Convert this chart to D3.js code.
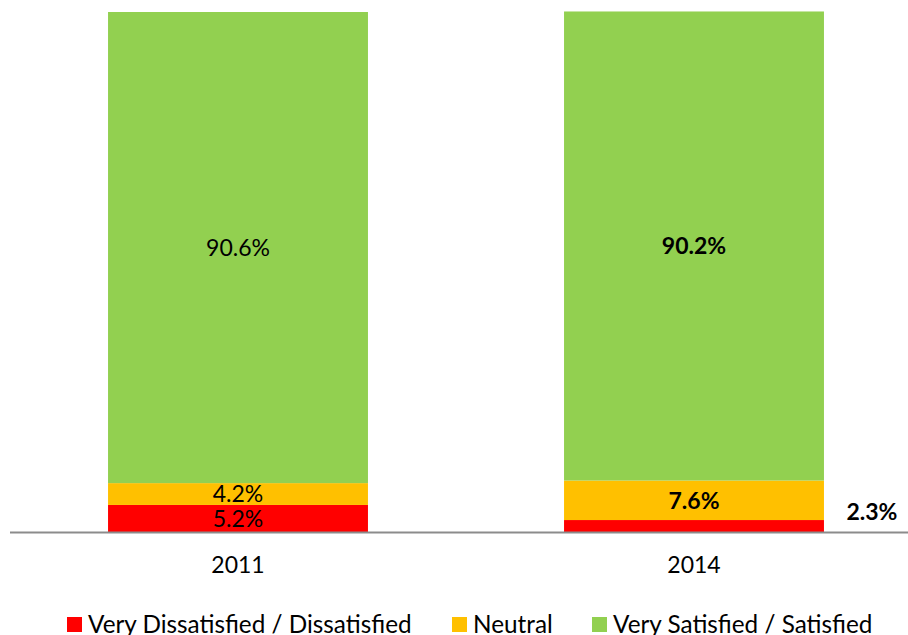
<!DOCTYPE html>
<html>
<head>
<meta charset="utf-8">
<script src="https://cdn.jsdelivr.net/npm/d3@7"></script>
<style>
body { margin: 0; background: #fff; }
text { font-family: Lato, "Open Sans", sans-serif; fill: #000; }
</style>
</head>
<body>
<svg id="chart" width="908" height="635"></svg>
<script>
var years = ["2011", "2014"];
var dissatisfied = [5.2, 2.3];
var neutral = [4.2, 7.6];
var satisfied = [90.6, 90.2];
var seriesNames = ["Very Dissatisfied / Dissatisfied", "Neutral", "Very Satisfied / Satisfied"];
var colors = ["#ff0000", "#ffc000", "#92d050"];

var plotLeft = 10, plotRight = 908, plotTop = 12, plotBottom = 532;

var svg = d3.select("#chart");

// build rows for the stack
var rows = years.map(function(y, i) {
	return { year: y, d: dissatisfied[i], n: neutral[i], s: satisfied[i] };
});
var stack = d3.stack().keys(["d", "n", "s"]);
var layers = stack(rows);

// band range runs a bit past the right edge, like the original plot area
var x = d3.scaleBand()
	.domain(years)
	.range([plotLeft, plotLeft + 912])
	.paddingInner(0.43)
	.paddingOuter(0.215);

var y = d3.scaleLinear()
	.domain([0, 100])
	.range([plotBottom, plotTop]);

// bars
svg.selectAll(".layer").data(layers).enter()
	.append("g")
	.attr("fill", function(d, i) { return colors[i]; })
	.selectAll("rect").data(function(d) { return d; }).enter()
	.append("rect")
	.attr("x", function(d) { return x(d.data.year); })
	.attr("width", x.bandwidth())
	.attr("y", function(d) { return y(d[1]); })
	.attr("height", function(d) { return y(d[0]) - y(d[1]); });

// baseline
svg.append("line")
	.attr("x1", plotLeft).attr("x2", plotRight)
	.attr("y1", plotBottom + 0.5).attr("y2", plotBottom + 0.5)
	.attr("stroke", "#8c8c8c")
	.attr("stroke-width", 2);

// value labels
layers.forEach(function(layer, li) {
	layer.forEach(function(d, i) {
		var val = d[1] - d[0];
		var bold = i === 1;
		var cx = x(d.data.year) + x.bandwidth() / 2;
		var cy = (y(d[0]) + y(d[1])) / 2;
		// small red segment in 2014 gets its label beside the bar
		if (i === 1 && li === 0) {
			cx = x(d.data.year) + x.bandwidth() + 48;
			cy = y(d[1]) - 8;
		}
		svg.append("text")
			.attr("x", cx)
			.attr("y", cy)
			.attr("dy", "0.36em")
			.attr("text-anchor", "middle")
			.style("font-size", "23px")
			.style("font-weight", bold ? "bold" : "normal")
			.text(val.toFixed(1) + "%");
	});
});

// year labels
var xAxis = svg.append("g")
	.attr("transform", "translate(0," + plotBottom + ")")
	.call(d3.axisBottom(x).tickSize(0).tickPadding(25));
xAxis.select(".domain").remove();
xAxis.selectAll("text")
	.style("font-size", "23px")
	.style("font-family", "Lato, 'Open Sans', sans-serif");

// legend
var legendX = [67, 452, 592];
var legend = svg.selectAll(".legend").data(seriesNames).enter()
	.append("g")
	.attr("transform", function(d, i) { return "translate(" + legendX[i] + ",617)"; });
legend.append("rect")
	.attr("width", 15).attr("height", 15)
	.attr("fill", function(d, i) { return colors[i]; });
legend.append("text")
	.attr("x", 21).attr("y", 7)
	.attr("dy", "0.36em")
	.style("font-size", "24.3px")
	.text(function(d) { return d; });
</script>
</body>
</html>
